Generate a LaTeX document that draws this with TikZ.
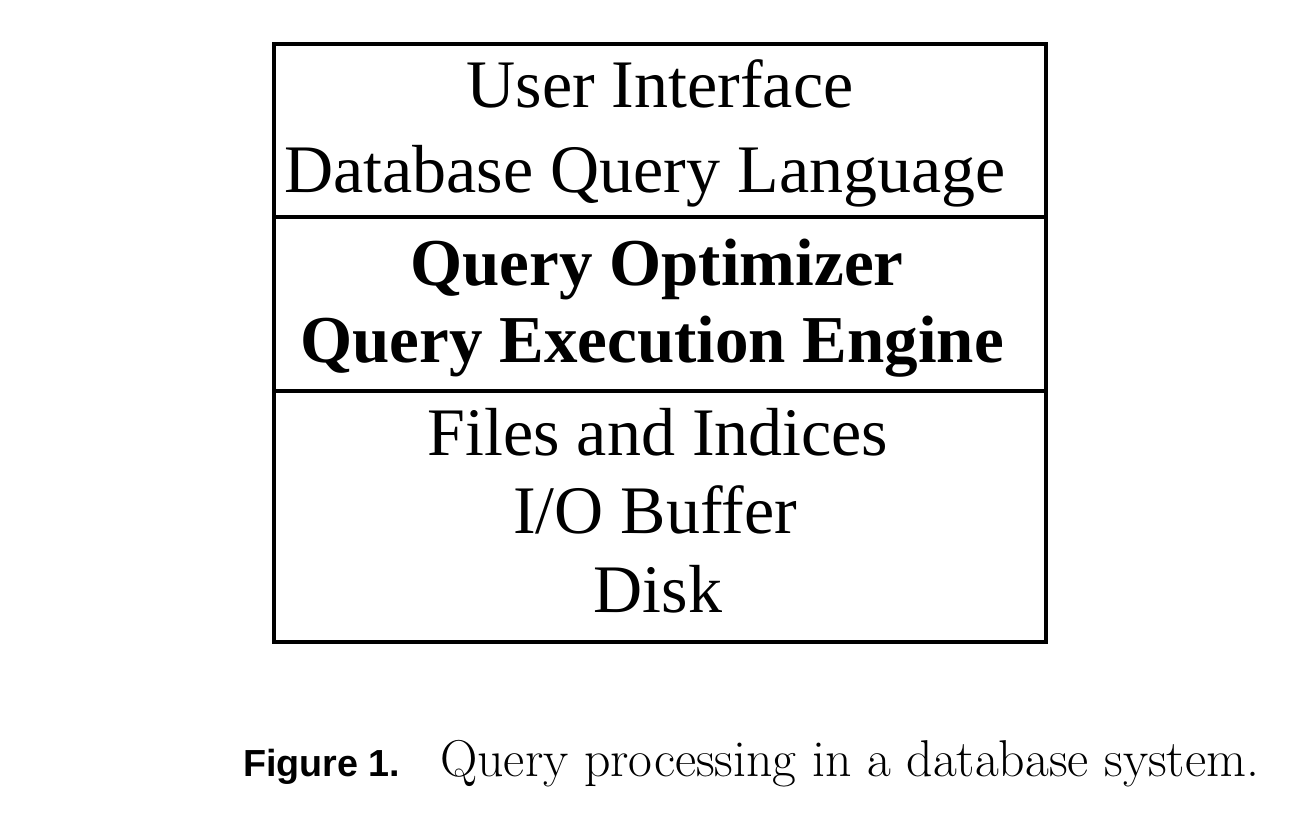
\documentclass[tikz,border=0pt]{standalone}
\usepackage{fontspec}
\newfontfamily\tmsfont{Liberation Serif}
\newfontfamily\capsans{Liberation Sans}
\begin{document}
\begin{tikzpicture}[x=1pt,y=-1pt,
  layer/.style={draw=black, line width=3.5pt, minimum width=772pt, inner sep=0pt, anchor=north west},
  reg/.style={anchor=base, inner sep=0pt, font=\tmsfont\fontsize{68}{80}\selectfont},
  bld/.style={anchor=base, inner sep=0pt, font=\tmsfont\bfseries\fontsize{67}{80}\selectfont},
  capl/.style={anchor=base west, inner sep=0pt, font=\capsans\bfseries\fontsize{37.7}{44}\selectfont},
  capt/.style={anchor=base west, inner sep=0pt, font=\fontsize{51.8}{60}\selectfont}]
\useasboundingbox (0,0) rectangle (1302,822);
\node[layer, minimum height=173pt] (top) at (272,42) {};
\node[layer, minimum height=174pt] (mid) at (272,215) {};
\node[layer, minimum height=251pt] (bot) at (272,389) {};
\node[reg] (ui) at (660,107) {User Interface};
\node[reg] (dql) at (645,192) {Database Query Language};
\node[bld] (qo) at (657,285) {Query Optimizer};
\node[bld] (qee) at (652,362) {Query Execution Engine};
\node[reg] (fi) at (658,455) {Files and Indices};
\node[reg] (io) at (655,533) {I/O Buffer};
\node[reg] (disk) at (658,612) {Disk};
\node[capl] (fig) at (243,776) {Figure 1.};
\node[capt] (cap) at (440,776) {Query processing in a database system.};
\end{tikzpicture}
\end{document}
